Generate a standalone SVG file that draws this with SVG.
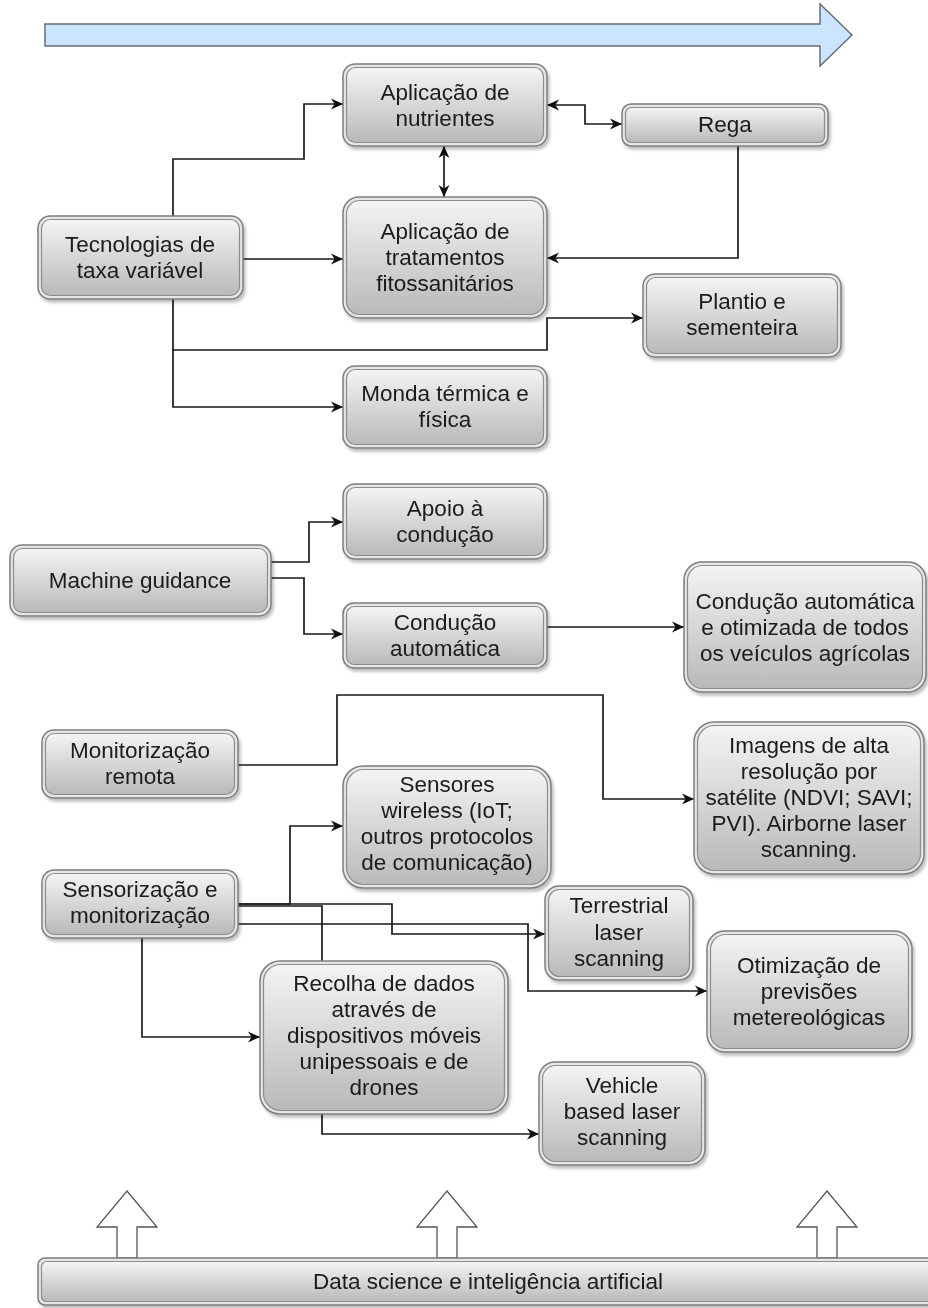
<svg xmlns="http://www.w3.org/2000/svg" width="928" height="1308" viewBox="0 0 928 1308">
<defs>
<linearGradient id="g" x1="0" y1="0" x2="0" y2="1">
<stop offset="0" stop-color="#f4f4f4"/>
<stop offset="1" stop-color="#b9b9b9"/>
</linearGradient>
<filter id="sh" x="-10%" y="-10%" width="130%" height="130%">
<feDropShadow dx="2" dy="3" stdDeviation="1.5" flood-color="#000" flood-opacity="0.25"/>
</filter>
<marker id="arr" viewBox="0 0 10 10" refX="10" refY="5" markerWidth="12" markerHeight="12" orient="auto-start-reverse" markerUnits="userSpaceOnUse">
<path d="M0,0.5 L10,5 L0,9.5 L3,5 z" fill="#111"/>
</marker>
</defs>
<style>
.o{fill:#e6e6e6;stroke:#7d7d7d;stroke-width:1.5}
.i{fill:url(#g);stroke:#8c8c8c;stroke-width:1.2}
.t{font-family:"Liberation Sans",Arial,sans-serif;font-size:22.5px;fill:#1a1a1a;text-anchor:middle}
.c{fill:none;stroke:#1a1a1a;stroke-width:1.7}
.ce{marker-end:url(#arr)}
.cb{marker-start:url(#arr);marker-end:url(#arr)}
.n{filter:url(#sh)}
.ua{fill:#fff;stroke:#555;stroke-width:1.3}
</style>

<g id="timeline">
<path d="M45,24 H820 V4 L852,35 L820,66 V46 H45 Z" fill="#cce5ff" stroke="#666e78" stroke-width="1.5"/>
</g>

<g id="connectors">
<path class="c ce" d="M173,216 V159 H304 V104 H343"/>
<path class="c ce" d="M243,259 H343"/>
<path class="c cb" d="M547,105 H585 V124 H622"/>
<path class="c cb" d="M444,146 V197"/>
<path class="c ce" d="M738,146 V258 H547"/>
<path class="c ce" d="M173,299 V350 H547 V318 H643"/>
<path class="c ce" d="M173,350 V407 H343"/>
<path class="c ce" d="M271,562 H309 V522 H343"/>
<path class="c ce" d="M271,578 H304 V634 H343"/>
<path class="c ce" d="M547,627 H684"/>
<path class="c ce" d="M238,765 H337 V695 H603 V799 H694"/>
<path class="c ce" d="M238,904 H290 V826 H343"/>
<path class="c ce" d="M238,906 H322 V1134 H539"/>
<path class="c ce" d="M238,904 H392 V934 H545"/>
<path class="c ce" d="M238,924 H528 V991 H707"/>
<path class="c ce" d="M142,938 V1037 H260"/>
</g>

<g id="nutrientes" class="n">
<rect class="o" x="343" y="64" width="204" height="82" rx="12"/>
<rect class="i" x="346.5" y="67.5" width="197" height="75" rx="9"/>
<text class="t" x="445" y="100">Aplicação de</text>
<text class="t" x="445" y="126">nutrientes</text>
</g>

<g id="rega" class="n">
<rect class="o" x="622" y="104" width="206" height="42" rx="9"/>
<rect class="i" x="625.5" y="107.5" width="199" height="35" rx="6"/>
<text class="t" x="725" y="132">Rega</text>
</g>

<g id="tratamentos" class="n">
<rect class="o" x="343" y="197" width="204" height="121" rx="16"/>
<rect class="i" x="346.5" y="200.5" width="197" height="114" rx="13"/>
<text class="t" x="445" y="239">Aplicação de</text>
<text class="t" x="445" y="265">tratamentos</text>
<text class="t" x="445" y="291">fitossanitários</text>
</g>

<g id="tecnologias" class="n">
<rect class="o" x="38" y="216" width="205" height="83" rx="12"/>
<rect class="i" x="41.5" y="219.5" width="198" height="76" rx="9"/>
<text class="t" x="140" y="252">Tecnologias de</text>
<text class="t" x="140" y="278">taxa variável</text>
</g>

<g id="plantio" class="n">
<rect class="o" x="643" y="274" width="198" height="83" rx="12"/>
<rect class="i" x="646.5" y="277.5" width="191" height="76" rx="9"/>
<text class="t" x="742" y="309">Plantio e</text>
<text class="t" x="742" y="335">sementeira</text>
</g>

<g id="monda" class="n">
<rect class="o" x="343" y="366" width="204" height="82" rx="12"/>
<rect class="i" x="346.5" y="369.5" width="197" height="75" rx="9"/>
<text class="t" x="445" y="401">Monda térmica e</text>
<text class="t" x="445" y="427">física</text>
</g>

<g id="apoio" class="n">
<rect class="o" x="343" y="484" width="204" height="75" rx="12"/>
<rect class="i" x="346.5" y="487.5" width="197" height="68" rx="9"/>
<text class="t" x="445" y="516">Apoio à</text>
<text class="t" x="445" y="542">condução</text>
</g>

<g id="machine" class="n">
<rect class="o" x="10" y="545" width="261" height="71" rx="12"/>
<rect class="i" x="13.5" y="548.5" width="254" height="64" rx="9"/>
<text class="t" x="140" y="588">Machine guidance</text>
</g>

<g id="conducao" class="n">
<rect class="o" x="343" y="603" width="204" height="65" rx="11"/>
<rect class="i" x="346.5" y="606.5" width="197" height="58" rx="8"/>
<text class="t" x="445" y="630">Condução</text>
<text class="t" x="445" y="656">automática</text>
</g>

<g id="conducao-otimizada" class="n">
<rect class="o" x="684" y="562" width="242" height="130" rx="18"/>
<rect class="i" x="687.5" y="565.5" width="235" height="123" rx="15"/>
<text class="t" x="805" y="609">Condução automática</text>
<text class="t" x="805" y="635">e otimizada de todos</text>
<text class="t" x="805" y="661">os veículos agrícolas</text>
</g>

<g id="monitorizacao" class="n">
<rect class="o" x="42" y="730" width="196" height="68" rx="12"/>
<rect class="i" x="45.5" y="733.5" width="189" height="61" rx="9"/>
<text class="t" x="140" y="758">Monitorização</text>
<text class="t" x="140" y="784">remota</text>
</g>

<g id="imagens" class="n">
<rect class="o" x="694" y="722" width="230" height="152" rx="20"/>
<rect class="i" x="697.5" y="725.5" width="223" height="145" rx="17"/>
<text class="t" x="809" y="753">Imagens de alta</text>
<text class="t" x="809" y="779">resolução por</text>
<text class="t" x="809" y="805">satélite (NDVI; SAVI;</text>
<text class="t" x="809" y="831">PVI). Airborne laser</text>
<text class="t" x="809" y="857">scanning.</text>
</g>

<g id="sensores" class="n">
<rect class="o" x="343" y="766" width="208" height="122" rx="20"/>
<rect class="i" x="346.5" y="769.5" width="201" height="115" rx="17"/>
<text class="t" x="447" y="792">Sensores</text>
<text class="t" x="447" y="818">wireless (IoT;</text>
<text class="t" x="447" y="844">outros protocolos</text>
<text class="t" x="447" y="870">de comunicação)</text>
</g>

<g id="sensorizacao" class="n">
<rect class="o" x="42" y="870" width="196" height="68" rx="12"/>
<rect class="i" x="45.5" y="873.5" width="189" height="61" rx="9"/>
<text class="t" x="140" y="897">Sensorização e</text>
<text class="t" x="140" y="923">monitorização</text>
</g>

<g id="terrestrial" class="n">
<rect class="o" x="545" y="886" width="148" height="94" rx="14"/>
<rect class="i" x="548.5" y="889.5" width="141" height="87" rx="11"/>
<text class="t" x="619" y="913">Terrestrial</text>
<text class="t" x="619" y="940">laser</text>
<text class="t" x="619" y="966">scanning</text>
</g>

<g id="otimizacao" class="n">
<rect class="o" x="707" y="931" width="205" height="121" rx="18"/>
<rect class="i" x="710.5" y="934.5" width="198" height="114" rx="15"/>
<text class="t" x="809" y="973">Otimização de</text>
<text class="t" x="809" y="999">previsões</text>
<text class="t" x="809" y="1025">metereológicas</text>
</g>

<g id="recolha" class="n">
<rect class="o" x="260" y="961" width="248" height="153" rx="20"/>
<rect class="i" x="263.5" y="964.5" width="241" height="146" rx="17"/>
<text class="t" x="384" y="991">Recolha de dados</text>
<text class="t" x="384" y="1017">através de</text>
<text class="t" x="384" y="1043">dispositivos móveis</text>
<text class="t" x="384" y="1069">unipessoais e de</text>
<text class="t" x="384" y="1095">drones</text>
</g>

<g id="vehicle" class="n">
<rect class="o" x="539" y="1062" width="166" height="103" rx="16"/>
<rect class="i" x="542.5" y="1065.5" width="159" height="96" rx="13"/>
<text class="t" x="622" y="1093">Vehicle</text>
<text class="t" x="622" y="1119">based laser</text>
<text class="t" x="622" y="1145">scanning</text>
</g>

<g id="up-arrows">
<path class="ua" d="M127,1191 L157,1227 H137 V1258 H117 V1227 H97 Z"/>
<path class="ua" d="M447,1191 L477,1227 H457 V1258 H437 V1227 H417 Z"/>
<path class="ua" d="M827,1191 L857,1227 H837 V1258 H817 V1227 H797 Z"/>
</g>

<g id="data-science" class="n">
<rect class="o" x="38" y="1258" width="900" height="47" rx="7"/>
<rect class="i" x="41.5" y="1261.5" width="893" height="40" rx="5"/>
<text class="t" x="488" y="1289">Data science e inteligência artificial</text>
</g>
</svg>
